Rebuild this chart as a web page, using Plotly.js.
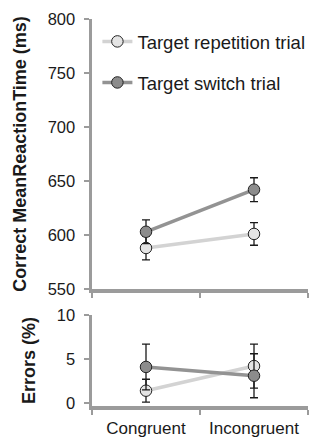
<!DOCTYPE html>
<html>
<head>
<meta charset="utf-8">
<script src="https://cdn.plot.ly/plotly-3.0.1.min.js"></script>
<style>html,body{margin:0;padding:0;background:#fff;}#chart{width:323px;height:440px;}</style>
</head>
<body>
<div id="chart"></div>
<script>
const categories = ['Congruent', 'Incongruent'];
const seriesNames = ['Target repetition trial', 'Target switch trial'];
const rtRepetition = [588, 601];
const rtRepetitionErr = [11, 10.5];
const rtSwitch = [603, 642];
const rtSwitchErr = [11, 11];
const errRepetition = [1.4, 4.2];
const errRepetitionErr = [1.3, 2.5];
const errSwitch = [4.1, 3.1];
const errSwitchErr = [2.6, 2.5];
const rtTicks = [550, 600, 650, 700, 750, 800];
const errTicks = [0, 5, 10];

const FONT = 'Liberation Sans, Arial, Helvetica, sans-serif';
const AX = '#9b9b9b';
const repLine = '#d3d3d3', repFill = '#e4e4e4';
const swLine = '#939393', swFill = '#8c8c8c';

function tr(y, err, name, lineC, fillC, xa, ya, showLegend) {
  return {
    x: categories, y: y, name: name, type: 'scatter', mode: 'lines+markers',
    xaxis: xa, yaxis: ya, showlegend: showLegend, legendgroup: name,
    line: {color: lineC, width: 3.5},
    marker: {size: 11.5, color: fillC, line: {color: '#222', width: 1}},
    error_y: {type: 'data', array: err, visible: true, color: '#1a1a1a', thickness: 1.3, width: 4}
  };
}

const data = [
  tr(rtRepetition, rtRepetitionErr, seriesNames[0], repLine, repFill, 'x', 'y', true),
  tr(rtSwitch, rtSwitchErr, seriesNames[1], swLine, swFill, 'x', 'y', true),
  tr(errRepetition, errRepetitionErr, seriesNames[0], repLine, repFill, 'x2', 'y2', false),
  tr(errSwitch, errSwitchErr, seriesNames[1], swLine, swFill, 'x2', 'y2', false)
];

const xCommon = {
  type: 'category', range: [-0.5, 1.5], tickson: 'boundaries',
  showline: true, linecolor: AX, linewidth: 3.5, ticks: 'outside', ticklen: 5,
  tickwidth: 2.5, tickcolor: AX, showgrid: false, zeroline: false,
  tickfont: {family: FONT, size: 17, color: '#1a1a1a'}
};
const yCommon = {
  showline: true, linecolor: AX, linewidth: 3.5, ticks: 'outside', ticklen: 5,
  tickwidth: 2.5, tickcolor: AX, showgrid: false, zeroline: false,
  tickfont: {family: FONT, size: 16.5, color: '#1a1a1a'}, tickmode: 'array',
  ticklabelstandoff: 5
};

const layout = {
  width: 323, height: 440,
  margin: {l: 92, r: 15, t: 19, b: 34},
  paper_bgcolor: '#fff', plot_bgcolor: '#fff',
  font: {family: FONT, color: '#1a1a1a'},
  showlegend: true,
  legend: {x: 0.025, y: 0.99, xanchor: 'left', yanchor: 'top', bgcolor: 'rgba(0,0,0,0)',
           font: {family: FONT, size: 18.5, color: '#1a1a1a'}, tracegroupgap: 14, traceorder: 'grouped'},
  xaxis: Object.assign({}, xCommon, {anchor: 'y', showticklabels: false, domain: [0, 1]}),
  xaxis2: Object.assign({}, xCommon, {anchor: 'y2', domain: [0, 1], ticklabelstandoff: 4}),
  yaxis: Object.assign({}, yCommon, {domain: [0.3023, 1], range: [550, 800], tickvals: rtTicks,
    title: {text: '<b>Correct MeanReactionTime (ms)</b>', standoff: 17, font: {family: FONT, size: 18, color: '#1a1a1a'}}}),
  yaxis2: Object.assign({}, yCommon, {domain: [0, 0.2351], range: [-0.34, 10], tickvals: errTicks,
    title: {text: '<b>Errors (%)</b>', standoff: 17, font: {family: FONT, size: 18, color: '#1a1a1a'}}})
};

Plotly.newPlot('chart', data, layout, {displayModeBar: false, staticPlot: true});
</script>
</body>
</html>
